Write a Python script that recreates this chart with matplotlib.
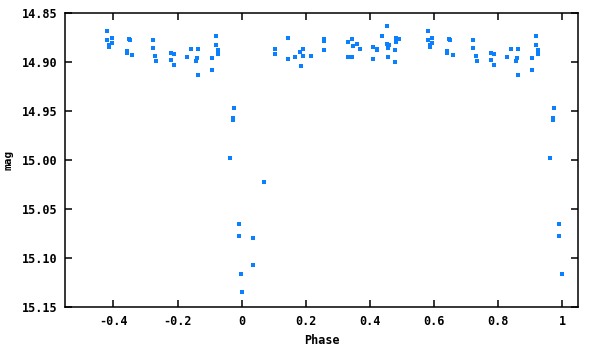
import matplotlib
matplotlib.use("Agg")
import matplotlib.pyplot as plt
import numpy as np

# Folded light curve: unique phases in [-0.5, 0.5); negative phases are repeated at phase+1
phase = [-0.419, -0.419, -0.406, -0.406, -0.4125, -0.4125,
         -0.353, -0.350, -0.359, -0.359, -0.341,
         -0.278, -0.278, -0.269, -0.266,
         -0.222, -0.2125, -0.222, -0.2125,
         -0.172, -0.159, -0.1375, -0.141, -0.144, -0.1375,
         -0.094, -0.094, -0.081, -0.081, -0.075, -0.075,
         -0.025, -0.028, -0.028, -0.0375, -0.009, -0.009, -0.001,
         0.001, 0.034, 0.034, 0.069,
         0.103, 0.103, 0.144, 0.144, 0.166, 0.181, 0.191, 0.191, 0.184, 0.216,
         0.256, 0.256, 0.256,
         0.331, 0.344, 0.347, 0.359, 0.369, 0.331, 0.344,
         0.409, 0.422, 0.422, 0.409, 0.4375, 0.453, 0.453, 0.459, 0.456, 0.456,
         0.481, 0.491, 0.481, 0.478, 0.478]
mag = [14.868, 14.8776, 14.8755, 14.880, 14.882, 14.884,
       14.8765, 14.8776, 14.889, 14.891, 14.893,
       14.8776, 14.885, 14.894, 14.899,
       14.891, 14.892, 14.898, 14.903,
       14.895, 14.886, 14.886, 14.896, 14.899, 14.913,
       14.896, 14.908, 14.8735, 14.882, 14.887, 14.892,
       14.947, 14.957, 14.959, 14.998, 15.065, 15.0776, 15.116,
       15.135, 15.0796, 15.107, 15.0225,
       14.886, 14.892, 14.8755, 14.897, 14.895, 14.890, 14.886, 14.894, 14.904, 14.894,
       14.8765, 14.8786, 14.888,
       14.8796, 14.8765, 14.883, 14.881, 14.886, 14.895, 14.895,
       14.884, 14.886, 14.888, 14.897, 14.8735, 14.863, 14.881, 14.882, 14.885, 14.895,
       14.8755, 14.8765, 14.8796, 14.887, 14.900]

xticks = [-0.4, -0.2, 0, 0.2, 0.4, 0.6, 0.8, 1]
xticklabels = ["-0.4", "-0.2", "0", "0.2", "0.4", "0.6", "0.8", "1"]
yticks = [14.85, 14.90, 14.95, 15.00, 15.05, 15.10, 15.15]
yticklabels = ["14.85", "14.90", "14.95", "15.00", "15.05", "15.10", "15.15"]

ph = np.array(phase)
mg = np.array(mag)
neg = ph < 0
all_ph = np.concatenate([ph, ph[neg] + 1])
all_mg = np.concatenate([mg, mg[neg]])

font = {"family": "DejaVu Sans Mono", "weight": "bold", "size": 8.5}

fig = plt.figure(figsize=(6, 3.5), dpi=100)
ax = fig.add_axes([0.109, 0.123, 0.855, 0.839])
ax.plot(all_ph, all_mg, linestyle="none", marker="s", markersize=2.5,
        markeredgewidth=0, color="#0a80ff")
ax.set_xlim(-0.55, 1.05)
ax.set_ylim(15.15, 14.85)
ax.set_xticks(xticks)
ax.set_xticklabels(xticklabels, fontdict=font)
ax.set_yticks(yticks)
ax.set_yticklabels(yticklabels, fontdict=font)
ax.tick_params(direction="in", length=5, width=1.1, top=True, right=True,
               color="black", pad=6)
for s in ax.spines.values():
    s.set_linewidth(1.1)
ax.set_xlabel("Phase", fontdict=font, labelpad=4)
ax.set_ylabel("mag", fontdict={"family": "DejaVu Sans Mono", "weight": "bold", "size": 8})
ax.yaxis.set_label_coords(-0.102, 0.5)
fig.savefig("out.png", dpi=100)
